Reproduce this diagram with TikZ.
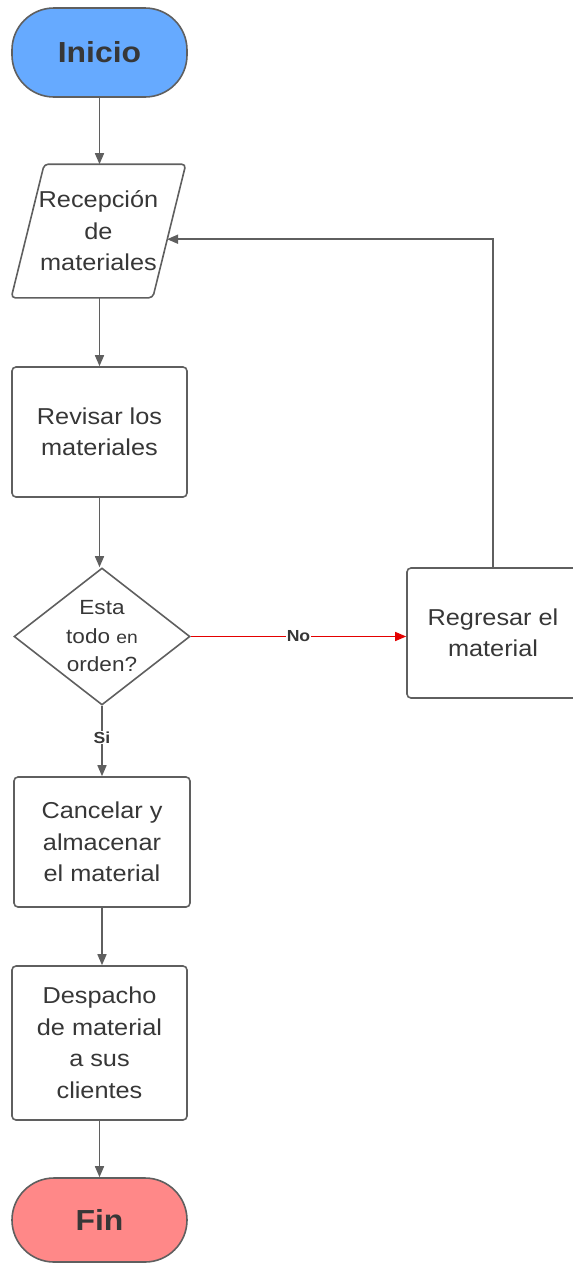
\documentclass[tikz,border=0pt]{standalone}
\usepackage{fontspec}
\setmainfont[FakeStretch=1.1]{Liberation Sans}
\usetikzlibrary{shapes.geometric,arrows.meta,calc}
\definecolor{ln}{RGB}{95,95,95}
\definecolor{tx}{RGB}{55,55,55}
\definecolor{blueF}{RGB}{102,170,255}
\definecolor{redF}{RGB}{255,136,136}
\definecolor{redL}{RGB}{228,0,0}
\begin{document}
\begin{tikzpicture}[x=1pt,y=-1pt,
 base/.style={draw=ln, line width=1.6pt, text=tx, font=\fontsize{23}{31.5}\selectfont, align=center, inner sep=0pt},
 proc/.style={base, rectangle, rounded corners=4pt, minimum width=175pt, minimum height=130pt},
 term/.style={base, rectangle, rounded corners=42pt, minimum width=175pt, font=\fontsize{29}{30}\selectfont\bfseries},
 io/.style={base, draw=none, rectangle, minimum width=140pt, minimum height=132pt},
 dec/.style={base, diamond, minimum width=176pt, minimum height=137pt, font=\fontsize{20.5}{28.5}\selectfont},
 arr/.style={draw=ln, line width=1.6pt, -{Triangle[length=11pt,width=9pt]}},
 lab/.style={fill=white, inner sep=1pt, font=\fontsize{16}{16}\selectfont\bfseries, text=tx}
]
\useasboundingbox (0,0) rectangle (573,1264);
\node[term, fill=blueF, minimum height=89pt] (ini) at (99.5,52.5) {Inicio};
\node[io] (rec) at (98.5,231) {Recepción\\de\\materiales};
\draw[draw=ln, line width=1.6pt, rounded corners=4pt]
  ($(rec.north west)+(16.5,0)$) -- ($(rec.north east)+(16.5,0)$) --
  ($(rec.south east)+(-16.5,0)$) -- ($(rec.south west)+(-16.5,0)$) -- cycle;
\coordinate (recin) at ($(rec.north east)+(16.5-33*75/132,75)$);
\node[proc] (rev) at (99.5,432) {Revisar los\\materiales};
\node[dec, inner sep=-4pt] (dec) at (102,636.5) {Esta\\todo {\fontsize{17.5}{28.5}\selectfont en}\\orden?};
\node[proc, minimum width=172pt] (reg) at (493,633) {Regresar el\\material};
\node[proc, minimum width=176pt] (can) at (102,842) {Cancelar y\\almacenar\\el material};
\node[proc, minimum height=154pt] (des) at (99.5,1043) {Despacho\\de material\\a sus\\clientes};
\node[term, fill=redF, minimum height=84pt] (fin) at (99.5,1220) {Fin};

\draw[arr] (ini.south) -- (ini.south |- rec.north);
\draw[arr] (rev.north |- rec.south) -- (rev.north);
\draw[arr] (rev.south) -- (rev.south |- dec.north);
\draw[arr, draw=redL, fill=redL, line width=1.3pt] (dec.east) -- node[lab]{No} (dec.east -| reg.west);
\draw[arr] (dec.south) -- node[lab, pos=0.45]{Si} (can.north);
\draw[arr] (can.south) -- (can.south |- des.north);
\draw[arr] (des.south) -- (fin.north);
\draw[arr] (reg.north) |- (recin);
\end{tikzpicture}
\end{document}
